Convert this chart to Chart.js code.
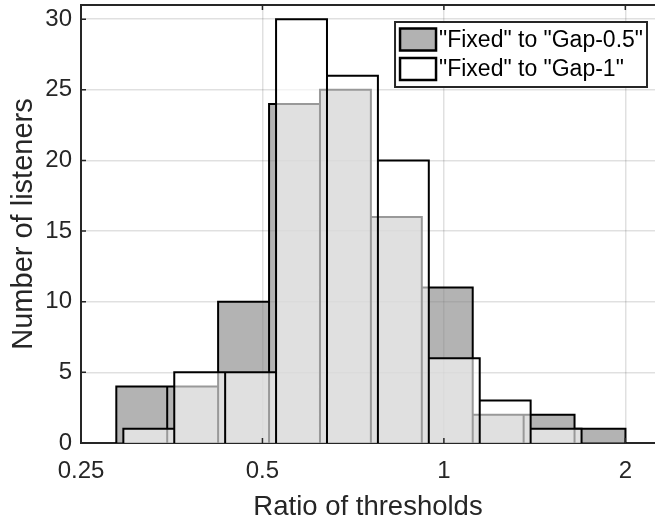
<!DOCTYPE html>
<html>
<head>
<meta charset="utf-8">
<script src="https://cdn.jsdelivr.net/npm/chart.js@4"></script>
<style>
  html, body { margin: 0; padding: 0; background: #fff; overflow: hidden; }
  canvas { display: block; }
</style>
</head>
<body>
<canvas id="histChart" width="655" height="521"></canvas>
<script>
// bin edges (ratio values, log-spaced) and counts per bin
const edgesGap05 = [0.2861, 0.3475, 0.4221, 0.5128, 0.6229, 0.7566, 0.9191, 1.1164, 1.3561, 1.6472, 2.0009];
const countsGap05 = [4, 4, 10, 24, 25, 16, 11, 2, 2, 1];
const edgesGap1 = [0.2939, 0.3570, 0.4336, 0.5267, 0.6398, 0.7772, 0.9440, 1.1467, 1.3929, 1.6920];
const countsGap1 = [1, 5, 5, 30, 26, 20, 6, 3, 1];
const seriesLabels = ['"Fixed" to "Gap-0.5"', '"Fixed" to "Gap-1"'];
const xTicks = [0.25, 0.5, 1, 2];
const yTicks = [0, 5, 10, 15, 20, 25, 30];

const TEXT = "#262626";
const FONT = "'Liberation Sans', Arial, sans-serif";

// outline every bar as a closed rectangle so the shared edges are drawn full height
function barOutline(edges, counts) {
  const pts = [];
  counts.forEach((c, i) => {
    pts.push({ x: edges[i], y: 0 });
    pts.push({ x: edges[i], y: c });
    pts.push({ x: edges[i + 1], y: c });
    pts.push({ x: edges[i + 1], y: 0 });
  });
  return pts;
}

// top edge of the box, inward ticks and the legend inside the plot
const boxPlugin = {
  id: "box",
  afterDatasetsDraw(chart) {
    const { ctx, chartArea: a, scales } = chart;
    ctx.save();
    ctx.strokeStyle = TEXT;
    ctx.lineWidth = 2;
    ctx.beginPath();
    ctx.moveTo(a.left, a.top);
    ctx.lineTo(a.right, a.top);
    ctx.stroke();

    ctx.lineWidth = 1.5;
    ctx.beginPath();
    xTicks.forEach(v => {
      const px = scales.x.getPixelForValue(v);
      ctx.moveTo(px, a.bottom); ctx.lineTo(px, a.bottom - 5);
      ctx.moveTo(px, a.top); ctx.lineTo(px, a.top + 5);
    });
    yTicks.forEach(v => {
      const py = scales.y.getPixelForValue(v);
      ctx.moveTo(a.left, py); ctx.lineTo(a.left + 5, py);
    });
    ctx.stroke();
    ctx.restore();
  },
  afterDraw(chart) {
    const { ctx, chartArea: a } = chart;
    ctx.save();
    ctx.font = "23px " + FONT;
    const textW = Math.max(...seriesLabels.map(s => ctx.measureText(s).width));
    const right = a.right - 8;
    const left = right - (5 + 36 + 3 + textW + 4);
    const top = a.top + 17;
    const h = 65;
    ctx.fillStyle = "#fff";
    ctx.fillRect(left, top, right - left, h);
    ctx.strokeStyle = TEXT;
    ctx.lineWidth = 2;
    ctx.strokeRect(left, top, right - left, h);

    const fills = ["#b2b2b2", "#ffffff"];
    seriesLabels.forEach((s, i) => {
      const cy = top + 17.5 + i * 29.5;
      ctx.fillStyle = fills[i];
      ctx.fillRect(left + 5, cy - 11, 36, 22);
      ctx.lineWidth = 2.5;
      ctx.strokeStyle = "#000";
      ctx.strokeRect(left + 5, cy - 11, 36, 22);
      ctx.fillStyle = "#000";
      ctx.textBaseline = "middle";
      ctx.fillText(s, left + 5 + 36 + 3, cy + 1);
    });
    ctx.restore();
  }
};

new Chart(document.getElementById("histChart"), {
  type: "line",
  data: {
    datasets: [
      {
        label: seriesLabels[0],
        data: barOutline(edgesGap05, countsGap05),
        borderColor: "#000",
        borderWidth: 2,
        backgroundColor: "rgba(128,128,128,0.6)",
        fill: "origin",
        pointRadius: 0,
        tension: 0,
        order: 2
      },
      {
        label: seriesLabels[1],
        data: barOutline(edgesGap1, countsGap1),
        borderColor: "#000",
        borderWidth: 2,
        backgroundColor: "rgba(255,255,255,0.6)",
        fill: "origin",
        pointRadius: 0,
        tension: 0,
        order: 1
      }
    ]
  },
  options: {
    responsive: false,
    animation: false,
    layout: { padding: { top: 5, right: 0, bottom: 0, left: 0 } },
    plugins: {
      legend: { display: false },
      tooltip: { enabled: false }
    },
    scales: {
      x: {
        type: "logarithmic",
        min: 0.25,
        max: 2.24,
        afterBuildTicks: s => { s.ticks = xTicks.map(v => ({ value: v })); },
        afterFit: s => { s.height = 78; s.paddingLeft = 0; s.paddingRight = 0; },
        ticks: {
          color: TEXT,
          font: { family: FONT, size: 24 },
          padding: 14,
          maxRotation: 0,
          autoSkip: false,
          callback: v => String(v)
        },
        grid: { color: "rgba(0,0,0,0.12)", lineWidth: 1.5, drawTicks: false },
        border: { color: TEXT, width: 2 },
        title: {
          display: true,
          text: "Ratio of thresholds",
          color: TEXT,
          font: { family: FONT, size: 27.5 },
          padding: { top: 0, bottom: -3 }
        }
      },
      y: {
        min: 0,
        max: 31,
        afterBuildTicks: s => { s.ticks = yTicks.map(v => ({ value: v })); },
        afterFit: s => { s.width = 81; s.paddingTop = 0; s.paddingBottom = 0; },
        ticks: {
          color: TEXT,
          font: { family: FONT, size: 24 },
          padding: 9
        },
        grid: { color: "rgba(0,0,0,0.12)", lineWidth: 1.5, drawTicks: false },
        border: { color: TEXT, width: 2 },
        title: {
          display: true,
          text: "Number of listeners",
          color: TEXT,
          font: { family: FONT, size: 29 },
          padding: { top: 7, bottom: 0 }
        }
      }
    }
  },
  plugins: [boxPlugin]
});
</script>
</body>
</html>
